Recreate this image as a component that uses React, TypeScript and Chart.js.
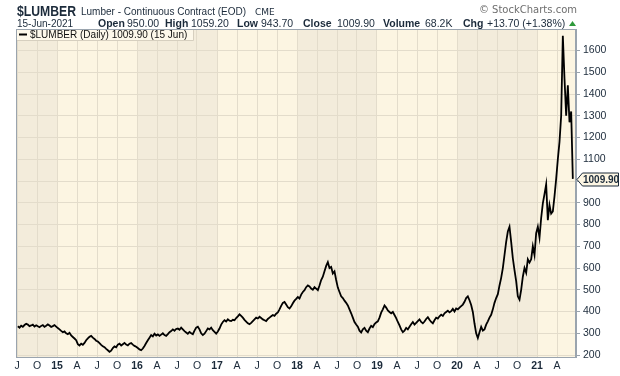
import React, { useEffect, useRef } from "react";
import { Chart, registerables } from "chart.js";

Chart.register(...registerables);

const FONT = '"Liberation Sans", Arial, sans-serif';
const TEXT = "#1b2a3a";
const GRID = "#e3dccb";
const BORDER = "#9aa4ae";
const LIGHT_BAND = "#fcf5e2";
const DARK_BAND = "#f3ecdb";

// Weekly closes (4 per month)
const prices2014 = [
  332, 326, 335, 330, 338, 344, 340, 333, 336, 340, 331, 337,
  332, 328, 334, 338, 330, 335, 341, 336, 329, 333, 338, 331,
];
const prices2015 = [
  324, 318, 311, 305, 309, 300, 296, 302, 290, 283, 276, 268,
  250, 244, 252, 247, 256, 268, 277, 284, 288, 280, 274, 266,
  262, 255, 247, 240, 236, 228, 222, 215, 220, 232, 240, 236,
  248, 252, 244, 250, 256, 248, 244, 252, 255, 248, 242, 238,
];
const prices2016 = [
  232, 226, 222, 230, 242, 255, 268, 280, 292, 286, 298, 290,
  295, 288, 294, 300, 292, 288, 296, 305, 310, 318, 312, 320,
  322, 316, 326, 318, 310, 304, 298, 306, 300, 296, 312, 326,
  330, 318, 300, 292, 298, 310, 322, 318, 326, 314, 306, 298,
];
const prices2017 = [
  308, 322, 340, 352, 360, 354, 364, 358, 356, 362, 360, 370,
  378, 387, 380, 372, 362, 354, 346, 342, 348, 356, 364, 372,
  368, 376, 370, 364, 360, 356, 366, 372, 378, 384, 380, 390,
  396, 410, 426, 440, 444, 432, 420, 414, 424, 438, 450, 458,
];
const prices2018 = [
  467, 460, 478, 490, 498, 512, 520, 515, 506, 500, 512, 505,
  498, 520, 545, 560, 585, 610, 627, 600, 605, 575, 585, 545,
  510, 490, 470, 462, 450, 440, 428, 410, 392, 372, 352, 340,
  330, 312, 304, 318, 325, 312, 305, 322, 334, 328, 342, 350,
];
const prices2019 = [
  355, 372, 395, 410, 428, 418, 405, 398, 392, 398, 384, 370,
  352, 336, 318, 305, 312, 325, 318, 330, 342, 352, 340, 348,
  356, 364, 352, 346, 354, 366, 374, 362, 352, 346, 360, 372,
  368, 378, 386, 380, 392, 398, 404, 396, 402, 412, 400, 414,
];
const prices2020 = [
  410, 418, 425, 432, 445, 462, 470, 452, 430, 398, 345, 300,
  278, 305, 330, 312, 318, 340, 355, 372, 385, 410, 440, 462,
  480, 520, 555, 600, 660, 720, 768, 790, 720, 645, 590, 540,
  470, 455, 500, 560, 600, 578, 640, 625, 640, 700, 660, 760,
];
const prices2021 = [
  790, 740, 830, 897, 940, 985, 820, 890, 850, 860, 930, 1010,
  1100, 1180, 1300, 1668, 1470, 1300, 1440, 1270, 1320, 1009.9,
];

const seriesByYear = [
  { year: 2014, firstMonth: 6, values: prices2014 },
  { year: 2015, firstMonth: 0, values: prices2015 },
  { year: 2016, firstMonth: 0, values: prices2016 },
  { year: 2017, firstMonth: 0, values: prices2017 },
  { year: 2018, firstMonth: 0, values: prices2018 },
  { year: 2019, firstMonth: 0, values: prices2019 },
  { year: 2020, firstMonth: 0, values: prices2020 },
  { year: 2021, firstMonth: 0, values: prices2021 },
];

const xTickLabels = [
  "J", "O", "15", "A", "J", "O", "16", "A", "J", "O", "17", "A", "J", "O",
  "18", "A", "J", "O", "19", "A", "J", "O", "20", "A", "J", "O", "21", "A",
];
const xTickFirstMonth = 6; // July 2014, months counted from Jan 2014
const yTickValues = [200, 300, 400, 500, 600, 700, 800, 900, 1000, 1100, 1200, 1300, 1400, 1500, 1600];
const darkYears = [2014, 2016, 2018, 2020];
const lastClose = 1009.9;

const headerLine2 = [
  { text: "15-Jun-2021", x: 17, bold: false, size: 10 },
  { text: "Open", x: 98, bold: true, size: 10.5 },
  { text: "950.00", x: 127, bold: false, size: 10.5 },
  { text: "High", x: 165, bold: true, size: 10.5 },
  { text: "1059.20", x: 191, bold: false, size: 10.5 },
  { text: "Low", x: 237, bold: true, size: 10.5 },
  { text: "943.70", x: 261, bold: false, size: 10.5 },
  { text: "Close", x: 303, bold: true, size: 10.5 },
  { text: "1009.90", x: 337, bold: false, size: 10.5 },
  { text: "Volume", x: 383, bold: true, size: 10.5 },
  { text: "68.2K", x: 425, bold: false, size: 10.5 },
  { text: "Chg", x: 463, bold: true, size: 10.5 },
  { text: "+13.70 (+1.38%)", x: 487, bold: false, size: 10.5 },
];

function buildPoints() {
  const pts: { x: number; y: number }[] = [];
  for (const s of seriesByYear) {
    s.values.forEach((v, i) => {
      pts.push({ x: 12 * (s.year - 2014) + s.firstMonth + (i + 0.5) / 4, y: v });
    });
  }
  return pts;
}

const decorPlugin = {
  id: "decor",
  beforeDraw(chart: any) {
    const { ctx, chartArea: a, scales } = chart;
    const x = scales.x;
    ctx.save();
    ctx.fillStyle = LIGHT_BAND;
    ctx.fillRect(a.left, a.top, a.right - a.left, a.bottom - a.top);
    ctx.fillStyle = DARK_BAND;
    for (const yr of darkYears) {
      const x0 = Math.max(a.left, x.getPixelForValue(12 * (yr - 2014)));
      const x1 = Math.min(a.right, x.getPixelForValue(12 * (yr - 2013)));
      if (x1 > x0) ctx.fillRect(x0, a.top, x1 - x0, a.bottom - a.top);
    }
    ctx.restore();
  },
  afterDatasetsDraw(chart: any) {
    const { ctx, chartArea: a } = chart;
    ctx.save();
    // legend box
    ctx.fillStyle = "#fdf8ea";
    ctx.fillRect(a.left + 0.5, a.top, 177, 11);
    ctx.strokeStyle = "#d6cfbf";
    ctx.lineWidth = 1;
    ctx.beginPath();
    ctx.moveTo(a.left, a.top + 11.5);
    ctx.lineTo(a.left + 177.5, a.top + 11.5);
    ctx.lineTo(a.left + 177.5, a.top);
    ctx.stroke();
    ctx.strokeStyle = "#000";
    ctx.lineWidth = 2;
    ctx.beginPath();
    ctx.moveTo(19, a.top + 5.5);
    ctx.lineTo(27, a.top + 5.5);
    ctx.stroke();
    ctx.fillStyle = "#111";
    ctx.font = `10px ${FONT}`;
    ctx.textBaseline = "alphabetic";
    ctx.textAlign = "left";
    ctx.fillText("$LUMBER (Daily) 1009.90 (15 Jun)", 30, a.top + 9);
    // border
    ctx.strokeStyle = BORDER;
    ctx.lineWidth = 1;
    ctx.strokeRect(a.left + 0.5, a.top + 0.5, a.right - a.left - 1, a.bottom - a.top);
    ctx.restore();
  },
  afterDraw(chart: any) {
    const { ctx, chartArea: a, scales } = chart;
    ctx.save();
    ctx.textBaseline = "alphabetic";
    ctx.textAlign = "left";
    ctx.fillStyle = TEXT;
    // title symbol, slightly condensed to fit like the reference
    ctx.save();
    ctx.font = `bold 14px ${FONT}`;
    const w = ctx.measureText("$LUMBER").width;
    ctx.translate(17, 16);
    ctx.scale(59 / w, 1);
    ctx.fillText("$LUMBER", 0, 0);
    ctx.restore();
    ctx.font = `10px ${FONT}`;
    ctx.fillText("Lumber - Continuous Contract (EOD)", 81, 15);
    ctx.font = `9px "DejaVu Sans", sans-serif`;
    ctx.fillText("CME", 255, 15);
    for (const p of headerLine2) {
      ctx.font = `${p.bold ? "bold " : ""}${p.size}px ${FONT}`;
      ctx.fillText(p.text, p.x, 27);
    }
    // up triangle
    ctx.fillStyle = "#2e9a3a";
    ctx.beginPath();
    ctx.moveTo(569, 26);
    ctx.lineTo(576, 26);
    ctx.lineTo(572.5, 21);
    ctx.closePath();
    ctx.fill();
    // copyright
    ctx.fillStyle = "#6e6e6e";
    ctx.font = `10px "DejaVu Sans", sans-serif`;
    ctx.textAlign = "right";
    ctx.fillText("\u00a9 StockCharts.com", 577, 13);
    // last value tag
    const y = Math.round(scales.y.getPixelForValue(lastClose)) + 0.5;
    ctx.beginPath();
    ctx.moveTo(a.right + 1, y);
    ctx.lineTo(a.right + 6.5, y - 6.5);
    ctx.lineTo(618.5, y - 6.5);
    ctx.lineTo(618.5, y + 6.5);
    ctx.lineTo(a.right + 6.5, y + 6.5);
    ctx.closePath();
    ctx.fillStyle = "#fdf6e3";
    ctx.fill();
    ctx.strokeStyle = TEXT;
    ctx.lineWidth = 1;
    ctx.stroke();
    ctx.fillStyle = TEXT;
    ctx.font = `bold 10px ${FONT}`;
    ctx.textAlign = "left";
    ctx.textBaseline = "middle";
    ctx.fillText(lastClose.toFixed(2), a.right + 7, y + 0.5);
    ctx.restore();
  },
};

export default function App() {
  const ref = useRef<HTMLCanvasElement | null>(null);
  useEffect(() => {
    if (!ref.current) return;
    const chart = new Chart(ref.current, {
      type: "line",
      data: {
        datasets: [
          {
            data: buildPoints(),
            borderColor: "#000",
            borderWidth: 1.8,
            pointRadius: 0,
            tension: 0,
            fill: false,
          },
        ],
      },
      options: {
        responsive: false,
        animation: false,
        devicePixelRatio: 1,
        parsing: false as any,
        layout: { padding: { left: 16, top: 29, right: 0, bottom: 0 } },
        plugins: { legend: { display: false }, tooltip: { enabled: false } },
        scales: {
          x: {
            type: "linear",
            min: 5.85,
            max: 89.85,
            afterBuildTicks: (s: any) => {
              s.ticks = xTickLabels.map((_, i) => ({ value: xTickFirstMonth + 3 * i }));
            },
            afterFit: (s: any) => {
              s.height = 19;
            },
            grid: { color: GRID, drawTicks: false, lineWidth: 1 },
            border: { display: true, color: BORDER },
            ticks: {
              autoSkip: false,
              maxRotation: 0,
              padding: 3,
              color: TEXT,
              callback: (_v: any, i: number) => xTickLabels[i],
              font: (c: any) => ({
                family: FONT,
                size: 10.5,
                weight: /\d/.test(xTickLabels[c.index] ?? "") ? "bold" : "normal",
              }),
            },
          },
          y: {
            type: "linear",
            position: "right",
            min: 191,
            max: 1699,
            afterBuildTicks: (s: any) => {
              s.ticks = yTickValues.map((v) => ({ value: v }));
            },
            afterFit: (s: any) => {
              s.width = 44;
            },
            grid: { color: GRID, tickColor: BORDER, tickLength: 4, drawTicks: true },
            border: { display: true, color: BORDER },
            ticks: {
              padding: 3,
              color: TEXT,
              font: { family: FONT, size: 10.5 },
              callback: (v: any) => (v === 1000 ? "" : String(v)),
            },
          },
        },
      },
      plugins: [decorPlugin],
    } as any);
    return () => chart.destroy();
  }, []);
  return (
    <div style={{ position: "fixed", left: 0, top: 0, width: 620, height: 376, background: "#fff" }}>
      <canvas ref={ref} width={620} height={376} style={{ display: "block" }} />
    </div>
  );
}
